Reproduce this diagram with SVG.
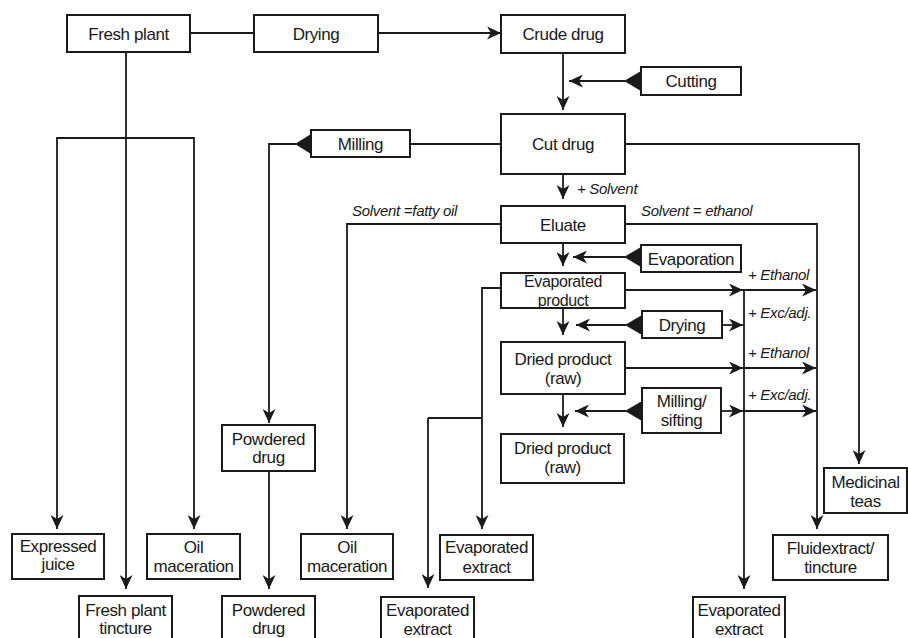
<svg xmlns="http://www.w3.org/2000/svg" width="908" height="638" viewBox="0 0 908 638">
<defs>
<style>
.box{fill:#fff;stroke:#1a1a1a;stroke-width:2}
.t{font-family:"Liberation Sans",Arial,sans-serif;font-size:17px;letter-spacing:-0.4px;fill:#1a1a1a;text-anchor:middle}
.s{font-size:16px}
.i{font-family:"Liberation Sans",Arial,sans-serif;font-size:15px;letter-spacing:-0.3px;font-style:italic;fill:#1a1a1a}
.ln{fill:none;stroke:#1a1a1a;stroke-width:1.8}
.ar{marker-end:url(#ah)}
.tri{fill:#1a1a1a}
</style>
<marker id="ah" viewBox="0 0 14 13" refX="14" refY="6.5" markerWidth="14" markerHeight="13" markerUnits="userSpaceOnUse" orient="auto">
<path d="M0,0 L14,6.5 L0,13 L4,6.5 z" fill="#1a1a1a"/>
</marker>
</defs>
<rect width="908" height="638" fill="#fff"/>

<g id="connectors">
<path class="ln" d="M190,33 H254"/>
<path class="ln ar" d="M378,33 H501"/>
<path class="ln ar" d="M563,53 V110"/>
<path class="ln ar" d="M625,81 H569"/>
<path class="ln" d="M501,144 H410"/>
<path class="ln ar" d="M296,144 H269 V423"/>
<path class="ln ar" d="M625,144 H859 V464"/>
<path class="ln" d="M126,52 V138"/>
<path class="ln ar" d="M126,138 V589"/>
<path class="ln ar" d="M126,138 H57 V529"/>
<path class="ln ar" d="M126,138 H194 V529"/>
<path class="ln ar" d="M563,174 V199"/>
<path class="ln ar" d="M501,224 H347 V529"/>
<path class="ln ar" d="M625,224 H817 V529"/>
<path class="ln ar" d="M563,243 V266"/>
<path class="ln ar" d="M625,257 H573"/>
<path class="ln ar" d="M625,290 H743"/>
<path class="ln ar" d="M743,290 H816"/>
<path class="ln ar" d="M744,290 V589"/>
<path class="ln ar" d="M501,288 H482 V529"/>
<path class="ln ar" d="M563,308 V335"/>
<path class="ln ar" d="M626,325 H576"/>
<path class="ln ar" d="M722,325 H743"/>
<path class="ln ar" d="M625,368 H743"/>
<path class="ln ar" d="M743,368 H816"/>
<path class="ln ar" d="M563,394 V427"/>
<path class="ln ar" d="M626,411 H575"/>
<path class="ln ar" d="M721,411 H743"/>
<path class="ln ar" d="M743,411 H816"/>
<path class="ln" d="M482,418 H428"/>
<path class="ln ar" d="M428,418 V588"/>
<path class="ln ar" d="M269,471 V589"/>
<text class="i" x="577" y="194">+ Solvent</text>
<text class="i" x="352" y="216">Solvent =fatty oil</text>
<text class="i" x="641" y="216">Solvent = ethanol</text>
<text class="i" x="748" y="280">+ Ethanol</text>
<text class="i" x="748" y="318">+ Exc/adj.</text>
<text class="i" x="748" y="358">+ Ethanol</text>
<text class="i" x="748" y="400">+ Exc/adj.</text>
</g>

<g id="fresh_plant"><rect class="box" x="67" y="15" width="123" height="37"/><text class="t" x="128.5" y="39.5">Fresh plant</text></g>
<g id="drying1"><rect class="box" x="254" y="15" width="124" height="37"/><text class="t" x="316" y="39.5">Drying</text></g>
<g id="crude_drug"><rect class="box" x="501" y="15" width="124" height="38"/><text class="t" x="563" y="39.5">Crude drug</text></g>
<g id="cutting"><rect class="box" x="641" y="67" width="100" height="28"/><path class="tri" d="M641,71 V91 L624,81 z"/><text class="t" x="691" y="87">Cutting</text></g>
<g id="cut_drug"><rect class="box" x="501" y="114" width="124" height="60"/><text class="t" x="563" y="150">Cut drug</text></g>
<g id="milling"><rect class="box" x="311" y="130" width="99" height="27"/><path class="tri" d="M311,134 V154 L295,144 z"/><text class="t" x="360.5" y="150">Milling</text></g>
<g id="eluate"><rect class="box" x="501" y="206" width="124" height="37"/><text class="t" x="563" y="230.5">Eluate</text></g>
<g id="evaporation"><rect class="box" x="641" y="245" width="100" height="27"/><path class="tri" d="M641,247 V267 L624,257 z"/><text class="t" x="691" y="264.5">Evaporation</text></g>
<g id="evaporated_product"><rect class="box" x="501" y="273" width="124" height="35"/><text class="t s" x="563" y="287">Evaporated<tspan x="563" y="305.5">product</tspan></text></g>
<g id="drying2"><rect class="box" x="642" y="311" width="80" height="27"/><path class="tri" d="M642,315 V335 L625,325 z"/><text class="t" x="682" y="331">Drying</text></g>
<g id="dried_product1"><rect class="box" x="501" y="342" width="124" height="52"/><text class="t" x="563" y="365">Dried product<tspan x="563" y="384">(raw)</tspan></text></g>
<g id="milling_sifting"><rect class="box" x="642" y="388" width="79" height="45"/><path class="tri" d="M642,401 V421 L625,411 z"/><text class="t" x="681.5" y="407">Milling/<tspan x="681.5" y="426">sifting</tspan></text></g>
<g id="dried_product2"><rect class="box" x="501" y="434" width="123" height="49"/><text class="t" x="562.5" y="454">Dried product<tspan x="562.5" y="473">(raw)</tspan></text></g>
<g id="powdered_drug1"><rect class="box" x="222" y="425" width="93" height="46"/><text class="t" x="268.5" y="445">Powdered<tspan x="268.5" y="463">drug</tspan></text></g>
<g id="medicinal_teas"><rect class="box" x="824" y="468" width="83" height="45"/><text class="t" x="865.5" y="488">Medicinal<tspan x="865.5" y="507">teas</tspan></text></g>
<g id="expressed_juice"><rect class="box" x="12" y="534" width="92" height="45"/><text class="t" x="58" y="552">Expressed<tspan x="58" y="570">juice</tspan></text></g>
<g id="oil_maceration1"><rect class="box" x="147" y="534" width="93" height="45"/><text class="t" x="193.5" y="553">Oil<tspan x="193.5" y="572">maceration</tspan></text></g>
<g id="oil_maceration2"><rect class="box" x="301" y="534" width="92" height="45"/><text class="t" x="347" y="553">Oil<tspan x="347" y="572">maceration</tspan></text></g>
<g id="evaporated_extract1"><rect class="box" x="440" y="535" width="93" height="45"/><text class="t" x="486.5" y="553">Evaporated<tspan x="486.5" y="573">extract</tspan></text></g>
<g id="fluidextract"><rect class="box" x="773" y="535" width="115" height="45"/><text class="t" x="830.5" y="554">Fluidextract/<tspan x="830.5" y="573">tincture</tspan></text></g>
<g id="fresh_plant_tincture"><rect class="box" x="79" y="596" width="93" height="50"/><text class="t" x="125.5" y="616">Fresh plant<tspan x="125.5" y="634">tincture</tspan></text></g>
<g id="powdered_drug2"><rect class="box" x="222" y="596" width="93" height="50"/><text class="t" x="268.5" y="616">Powdered<tspan x="268.5" y="634">drug</tspan></text></g>
<g id="evaporated_extract2"><rect class="box" x="381" y="597" width="93" height="50"/><text class="t" x="427.5" y="616">Evaporated<tspan x="427.5" y="635">extract</tspan></text></g>
<g id="evaporated_extract3"><rect class="box" x="693" y="597" width="92" height="50"/><text class="t" x="739" y="616">Evaporated<tspan x="739" y="635">extract</tspan></text></g>
</svg>
